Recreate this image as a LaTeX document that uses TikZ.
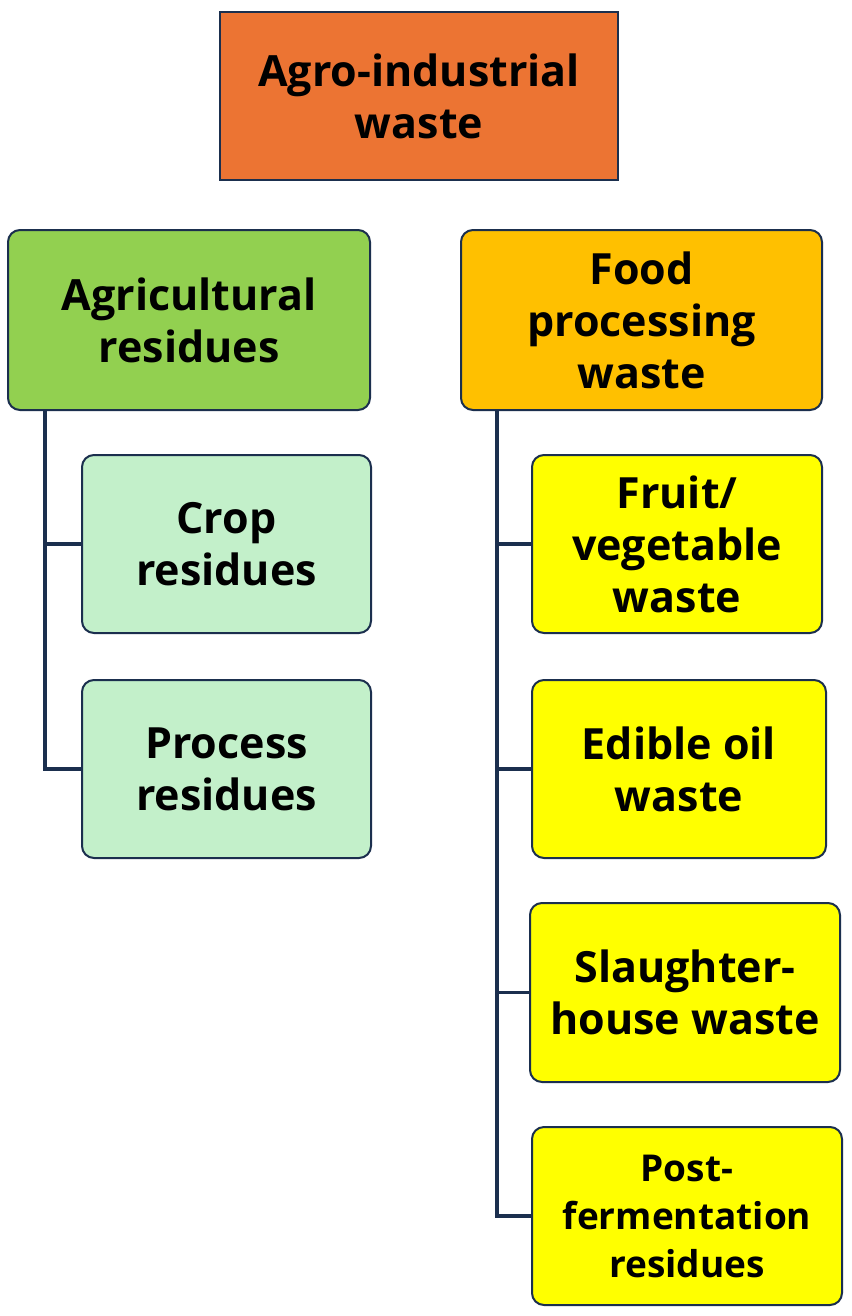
\documentclass[tikz,border=0pt]{standalone}
\usepackage{fontspec}
\setmainfont{Open Sans}
\usetikzlibrary{positioning}
\definecolor{navy}{HTML}{1B2F4E}
\definecolor{orangebox}{HTML}{EC7433}
\definecolor{greenbox}{HTML}{92D050}
\definecolor{mintbox}{HTML}{C3F0CA}
\definecolor{amberbox}{HTML}{FFC000}
\definecolor{yellowbox}{HTML}{FFFF00}
\tikzset{
  catbox/.style={draw=navy, line width=2pt, rounded corners=12pt, align=center,
    inner sep=0pt, font=\fontsize{43}{52}\selectfont\bfseries},
  link/.style={draw=navy, line width=3.5pt}
}
\begin{document}
\begin{tikzpicture}[x=1pt, y=-1pt]
  \useasboundingbox (0,0) rectangle (851,1316);
  \fill[white] (0,0) rectangle (851,1316);
  % top level
  \node[catbox, rounded corners=0pt, fill=orangebox, minimum width=398pt, minimum height=168pt]
    (top) at (419,96) {Agro-industrial\\waste};
  % two groups
  \node[catbox, fill=greenbox, minimum width=362pt, minimum height=180pt]
    (agri) at (189,320) {Agricultural\\residues};
  \node[catbox, fill=amberbox, minimum width=361pt, minimum height=180pt]
    (food) at (641.5,320) {Food\\processing\\waste};
  % agricultural residues
  \node[catbox, fill=mintbox, minimum width=289pt, minimum height=178pt]
    (crop) at (226.5,544) {Crop\\residues};
  \node[catbox, fill=mintbox, minimum width=289pt, minimum height=178pt]
    (process) at (226.5,769) {Process\\residues};
  % food processing waste
  \node[catbox, fill=yellowbox, minimum width=290pt, minimum height=178pt]
    (fruit) at (677,544) {Fruit/\\vegetable\\waste};
  \node[catbox, fill=yellowbox, minimum width=294pt, minimum height=178pt]
    (oil) at (679,769) {Edible oil\\waste};
  \node[catbox, fill=yellowbox, minimum width=310pt, minimum height=179pt]
    (slaughter) at (685,992.5) {Slaughter-\\house waste};
  \node[catbox, fill=yellowbox, minimum width=310pt, minimum height=178pt,
    font=\fontsize{37}{48}\selectfont\bfseries]
    (postferm) at (687,1216) {Post-\\fermentation\\residues};
  % connectors
  \coordinate (agrileg) at ([xshift=-144pt]agri.south);
  \coordinate (foodleg) at ([xshift=-144.5pt]food.south);
  \draw[link] (agrileg) |- (crop.west);
  \draw[link] (agrileg) |- (process.west);
  \draw[link] (foodleg) |- (fruit.west);
  \draw[link] (foodleg) |- (oil.west);
  \draw[link] (foodleg) |- (slaughter.west);
  \draw[link] (foodleg) |- (postferm.west);
\end{tikzpicture}
\end{document}
